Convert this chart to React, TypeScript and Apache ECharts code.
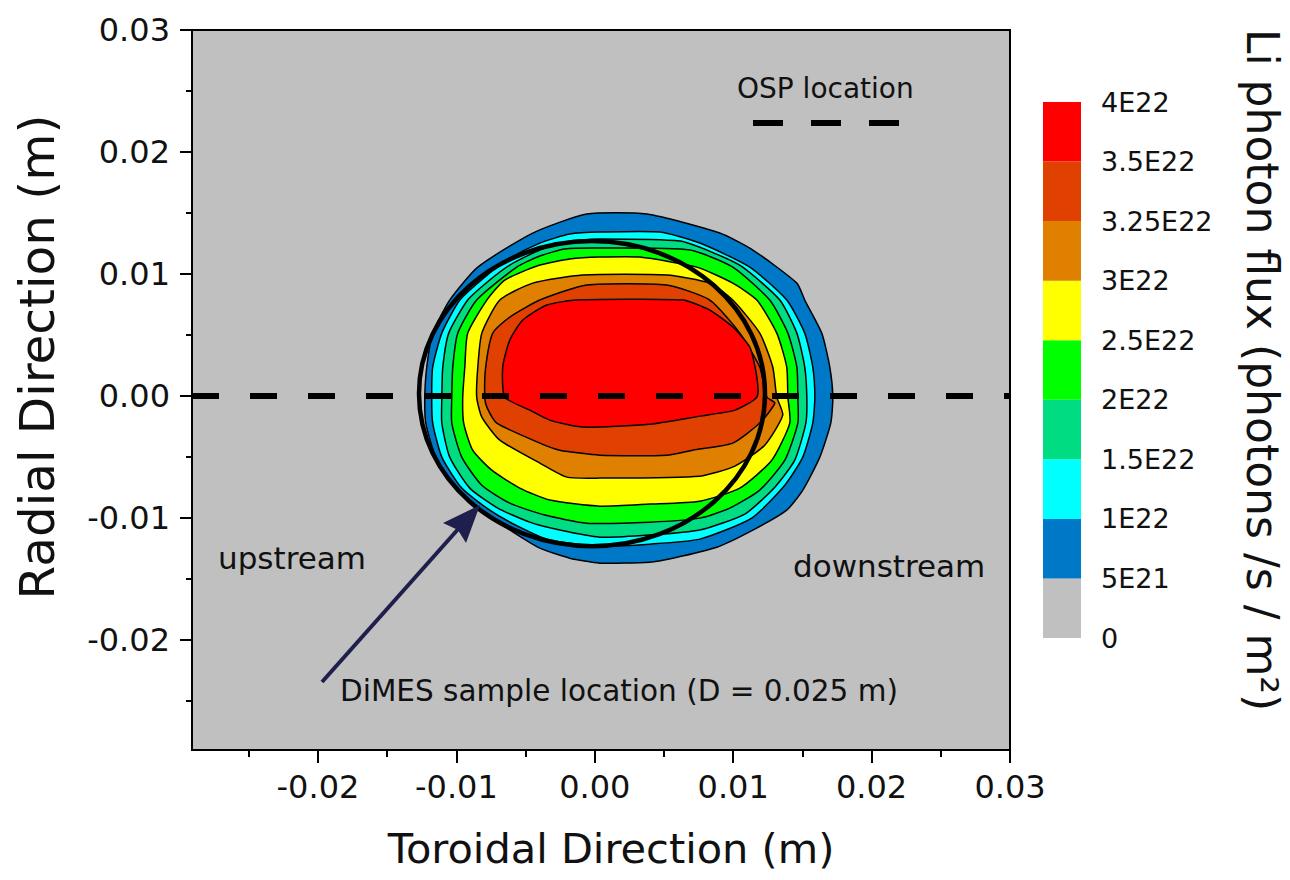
import React, { useEffect, useRef } from "react";
import * as echarts from "echarts";

// ---------- axes ----------
const X_MIN = -0.0291;
const X_MAX = 0.03;
const Y_MIN = -0.029;
const Y_MAX = 0.03;
const X_TICKS = [-0.02, -0.01, 0, 0.01, 0.02, 0.03];
const X_MINOR = [-0.025, -0.015, -0.005, 0.005, 0.015, 0.025];
const Y_TICKS = [-0.02, -0.01, 0, 0.01, 0.02, 0.03];
const Y_MINOR = [-0.025, -0.015, -0.005, 0.005, 0.015, 0.025];

// ---------- colour scale ----------
const LEVEL_LABELS = ["0", "5E21", "1E22", "1.5E22", "2E22", "2.5E22", "3E22", "3.25E22", "3.5E22", "4E22"];
const LEVEL_COLORS = ["#C0C0C0", "#0078C8", "#00FFFF", "#00DC82", "#00FF00", "#FFFF00", "#E08000", "#E04000", "#FF0000"];

// ---------- contour boundaries (toroidal mm, radial mm) ----------
const C_5E21 = [
  [-12.28, -0.08], [-12.14, 2.38], [-11.71, 5.16], [-10.48, 7.87], [-8.45, 10.57], [-4.48, 13.36],
  [-0.58, 14.92], [3.76, 14.92], [9.03, 13.36], [11.42, 11.97], [14.6, 9.26], [15.17, 7.87],
  [16.4, 5.16], [16.98, 2.38], [17.2, -0.08], [17.05, -2.21], [16.26, -5.0], [15.03, -7.7],
  [13.87, -9.34], [11.42, -10.98], [8.82, -12.38], [5.64, -13.28], [3.97, -13.61], [0.36, -13.69],
  [-1.81, -13.28], [-3.97, -12.46], [-6.0, -11.07], [-8.09, -9.51], [-10.04, -7.54], [-11.49, -5.0],
  [-12.21, -2.21],
];
const C_1E22 = [
  [-11.78, -0.08], [-11.71, 2.38], [-11.05, 5.16], [-9.75, 7.87], [-7.95, 9.75], [-6.14, 11.31],
  [-3.97, 12.54], [-1.81, 13.28], [0.36, 13.44], [4.7, 13.44], [7.59, 12.54], [11.2, 10.57],
  [13.87, 7.87], [15.17, 5.16], [15.75, 2.38], [15.9, -0.08], [15.75, -2.21], [15.03, -5.0],
  [13.73, -7.3], [11.34, -10.0], [7.59, -11.72], [3.97, -12.13], [0.36, -12.3], [-3.25, -11.8],
  [-5.42, -10.74], [-7.59, -9.34], [-9.61, -7.54], [-11.05, -5.0], [-11.71, -2.21],
];
const C_15E22 = [
  [-11.05, -0.08], [-10.98, 2.38], [-10.55, 5.16], [-9.18, 7.87], [-7.59, 9.51], [-6.14, 10.74],
  [-3.97, 11.97], [-1.81, 12.7], [0.36, 12.87], [6.14, 12.7], [8.45, 11.8], [10.69, 10.57],
  [13.37, 7.87], [14.6, 5.16], [15.17, 2.38], [15.32, -0.08], [15.25, -2.21], [14.45, -5.25],
  [13.01, -7.46], [10.84, -9.67], [7.59, -10.98], [3.97, -11.39], [0.36, -11.56], [-2.53, -10.98],
  [-4.7, -10.33], [-7.01, -9.18], [-9.03, -7.54], [-10.48, -5.0], [-11.05, -2.21],
];
const C_2E22 = [
  [-10.33, -0.08], [-10.26, 2.38], [-9.9, 5.16], [-8.53, 7.87], [-5.64, 10.57], [-3.97, 11.48],
  [-2.17, 12.05], [0.36, 12.13], [6.86, 11.97], [9.97, 10.57], [12.64, 7.87], [13.95, 5.16],
  [14.6, 2.38], [14.67, -0.08], [14.67, -2.21], [13.73, -5.25], [11.92, -7.7], [9.75, -9.18],
  [7.59, -10.0], [3.97, -10.33], [-0.58, -10.41], [-3.61, -9.75], [-6.14, -8.77], [-8.16, -7.3],
  [-9.61, -5.0], [-10.33, -2.21],
];
const C_25E22 = [
  [-9.54, -0.08], [-9.39, 2.38], [-9.18, 5.16], [-7.8, 7.87], [-6.5, 9.51], [-3.97, 10.74],
  [-1.81, 11.23], [0.36, 11.39], [3.25, 11.39], [7.37, 10.57], [9.97, 9.26], [11.71, 7.87],
  [13.15, 5.16], [13.87, 2.38], [13.95, -0.08], [14.09, -2.21], [12.79, -5.25], [10.48, -7.54],
  [7.59, -8.61], [3.97, -8.85], [0.36, -9.02], [-3.25, -8.52], [-5.42, -7.54], [-7.44, -6.07],
  [-8.82, -4.43], [-9.47, -2.21],
];
const C_3E22 = [
  [-8.53, -0.08], [-8.45, 2.38], [-8.16, 5.16], [-6.86, 7.87], [-4.48, 9.26], [-0.87, 9.92],
  [5.2, 9.92], [8.31, 9.26], [9.97, 7.87], [11.92, 5.16], [12.86, 2.38], [13.15, -0.08],
  [13.58, -1.56], [12.28, -4.02], [10.12, -5.74], [7.59, -6.56], [0.36, -6.72], [-2.02, -6.64],
  [-3.97, -5.49], [-6.86, -3.61], [-8.16, -1.72],
];
const C_325E22 = [
  [-7.95, -0.08], [-7.88, 2.38], [-7.37, 5.16], [-6.14, 6.48], [-3.97, 7.87], [-0.58, 9.1],
  [5.2, 9.1], [8.31, 7.87], [10.48, 5.16], [11.92, 2.38], [12.43, -0.08], [13.01, -0.57],
  [11.92, -2.21], [9.97, -3.85], [7.08, -4.43], [5.2, -4.84], [0.36, -4.84], [-2.53, -4.43],
  [-3.97, -3.85], [-7.08, -2.21], [-7.8, -0.9],
];
const C_35E22 = [
  [-6.5, -0.08], [-6.65, 2.38], [-6.14, 4.59], [-5.2, 6.23], [-3.47, 7.46], [-1.3, 7.87],
  [6.36, 7.87], [8.31, 7.05], [9.97, 5.66], [11.2, 4.02], [11.71, 1.56], [11.71, -0.08],
  [10.12, -1.15], [7.59, -1.64], [3.97, -2.3], [-0.87, -2.54], [-3.25, -1.97], [-4.7, -1.15],
];
const CONTOURS = [C_5E21, C_1E22, C_15E22, C_2E22, C_25E22, C_3E22, C_325E22, C_35E22];

// ---------- DiMES sample (centre x, centre y, radius in m) ----------
const DIMES = [[-0.0002, 0.0002, 0.0125]];
// ---------- OSP line (radial = 0) ----------
const OSP_LINE = [[X_MIN, 0], [X_MAX, 0]];

const FONT = "DejaVu Sans";
const TXT = "#111";

export default function App() {
  const ref = useRef<HTMLDivElement>(null);

  useEffect(() => {
    if (!ref.current) return;
    const chart = echarts.init(ref.current, null, { renderer: "svg" });

    const mainAxisCommon = {
      type: "value",
      splitLine: { show: false },
    };

    const option: any = {
      animation: false,
      backgroundColor: "#fff",
      textStyle: { fontFamily: FONT },
      grid: [
        {
          left: 192, top: 30, width: 818, height: 720,
          show: true, backgroundColor: "#C0C0C0", borderColor: "#000", borderWidth: 2,
          outerBoundsMode: "none", containLabel: false,
        },
        { left: 1043, top: 102, width: 38, height: 536, show: false, outerBoundsMode: "none", containLabel: false },
      ],
      xAxis: [
        {
          ...mainAxisCommon, gridIndex: 0, min: X_MIN, max: X_MAX, position: "bottom",
          axisLine: { show: true, onZero: false, lineStyle: { color: "#000", width: 2 } },
          axisTick: { show: true, customValues: X_TICKS, length: 13, inside: false, lineStyle: { color: "#000", width: 2 } },
          axisLabel: { show: true, customValues: X_TICKS, formatter: (v: number) => v.toFixed(2), fontSize: 32, color: TXT, margin: 21, fontFamily: FONT },
        },
        {
          ...mainAxisCommon, gridIndex: 0, min: X_MIN, max: X_MAX, position: "bottom",
          axisLine: { show: false, onZero: false },
          axisTick: { show: true, customValues: X_MINOR, length: 7, inside: false, lineStyle: { color: "#000", width: 2 } },
          axisLabel: { show: false },
        },
        { type: "value", gridIndex: 1, min: 0, max: 1, show: false },
      ],
      yAxis: [
        {
          ...mainAxisCommon, gridIndex: 0, min: Y_MIN, max: Y_MAX, position: "left",
          axisLine: { show: true, onZero: false, lineStyle: { color: "#000", width: 2 } },
          axisTick: { show: true, customValues: Y_TICKS, length: 12, inside: false, lineStyle: { color: "#000", width: 2 } },
          axisLabel: { show: true, customValues: Y_TICKS, formatter: (v: number) => v.toFixed(2), fontSize: 32, color: TXT, margin: 22, fontFamily: FONT },
        },
        {
          ...mainAxisCommon, gridIndex: 0, min: Y_MIN, max: Y_MAX, position: "left",
          axisLine: { show: false, onZero: false },
          axisTick: { show: true, customValues: Y_MINOR, length: 6, inside: false, lineStyle: { color: "#000", width: 2 } },
          axisLabel: { show: false },
        },
        {
          type: "value", gridIndex: 1, min: 0, max: 9, interval: 1, position: "right",
          axisLine: { show: false }, axisTick: { show: false }, splitLine: { show: false },
          axisLabel: {
            show: true, formatter: (v: number) => LEVEL_LABELS[Math.round(v)] ?? "",
            fontSize: 27, color: TXT, margin: 20, fontFamily: FONT,
          },
        },
      ],
      series: [
        {
          type: "custom", name: "contours", xAxisIndex: 0, yAxisIndex: 0, clip: true, z: 2,
          data: CONTOURS.map((_, i) => [0, i]),
          renderItem: (params: any, api: any) => {
            const i = params.dataIndex;
            const pts = CONTOURS[i].map(([x, y]) => api.coord([x / 1000, y / 1000]));
            return {
              type: "polygon",
              shape: { points: pts, smooth: 0.2 },
              style: { fill: LEVEL_COLORS[i + 1], stroke: "#000", lineWidth: 1.5 },
            };
          },
        },
        {
          type: "line", name: "OSP", xAxisIndex: 0, yAxisIndex: 0, data: OSP_LINE, symbol: "none", z: 4,
          lineStyle: { color: "#000", width: 6, type: [27, 31] },
        },
        {
          type: "custom", name: "DiMES", xAxisIndex: 0, yAxisIndex: 0, z: 5,
          data: DIMES,
          renderItem: (params: any, api: any) => {
            const c = api.coord([api.value(0), api.value(1)]);
            const s = api.size([api.value(2), api.value(2)]);
            return {
              type: "ellipse",
              shape: { cx: c[0], cy: c[1], rx: s[0], ry: s[1] },
              style: { fill: "none", stroke: "#000", lineWidth: 4.5 },
            };
          },
        },
        {
          type: "custom", name: "colorbar", xAxisIndex: 2, yAxisIndex: 2,
          data: LEVEL_COLORS.map((_, i) => [0, i]),
          renderItem: (params: any, api: any) => {
            const i = api.value(1);
            const p0 = api.coord([0, i]);
            const p1 = api.coord([1, i + 1]);
            return {
              type: "rect",
              shape: { x: p0[0], y: p1[1], width: p1[0] - p0[0], height: p0[1] - p1[1] },
              style: { fill: LEVEL_COLORS[i] },
            };
          },
        },
      ],
      graphic: [
        { type: "text", z: 100, x: 737, y: 88, style: { text: "OSP location", fontSize: 28, fontFamily: FONT, fill: TXT, align: "left", verticalAlign: "middle" } },
        { type: "line", z: 100, shape: { x1: 753, y1: 123, x2: 902, y2: 123 }, style: { stroke: "#000", lineWidth: 6, lineDash: [30, 28] } },
        { type: "text", z: 100, x: 218, y: 558, style: { text: "upstream", fontSize: 31, fontFamily: FONT, fill: TXT, align: "left", verticalAlign: "middle" } },
        { type: "text", z: 100, x: 793, y: 566, style: { text: "downstream", fontSize: 31, fontFamily: FONT, fill: TXT, align: "left", verticalAlign: "middle" } },
        { type: "text", z: 100, x: 340, y: 691, style: { text: "DiMES sample location (D = 0.025 m)", fontSize: 29.5, fontFamily: FONT, fill: TXT, align: "left", verticalAlign: "middle" } },
        { type: "line", z: 100, shape: { x1: 322, y1: 682, x2: 460, y2: 527 }, style: { stroke: "#1F1F4D", lineWidth: 4 } },
        { type: "polygon", z: 100, shape: { points: [[480, 505], [466, 543], [458, 530], [443, 523]] }, style: { fill: "#1F1F4D" } },
        { type: "text", z: 100, x: 611, y: 848, style: { text: "Toroidal Direction (m)", fontSize: 41.5, fontFamily: FONT, fill: TXT, align: "center", verticalAlign: "middle" } },
        { type: "text", z: 100, x: 37, y: 357, rotation: Math.PI / 2, style: { text: "Radial Direction (m)", fontSize: 48.5, fontFamily: FONT, fill: TXT, align: "center", verticalAlign: "middle" } },
        { type: "text", z: 100, x: 1262, y: 370, rotation: -Math.PI / 2, style: { text: "Li photon flux (photons /s / m²)", fontSize: 44, fontFamily: FONT, fill: TXT, align: "center", verticalAlign: "middle" } },
      ],
    };

    chart.setOption(option);
    return () => chart.dispose();
  }, []);

  return <div ref={ref} style={{ position: "fixed", left: 0, top: 0, width: 1290, height: 880 }} />;
}
